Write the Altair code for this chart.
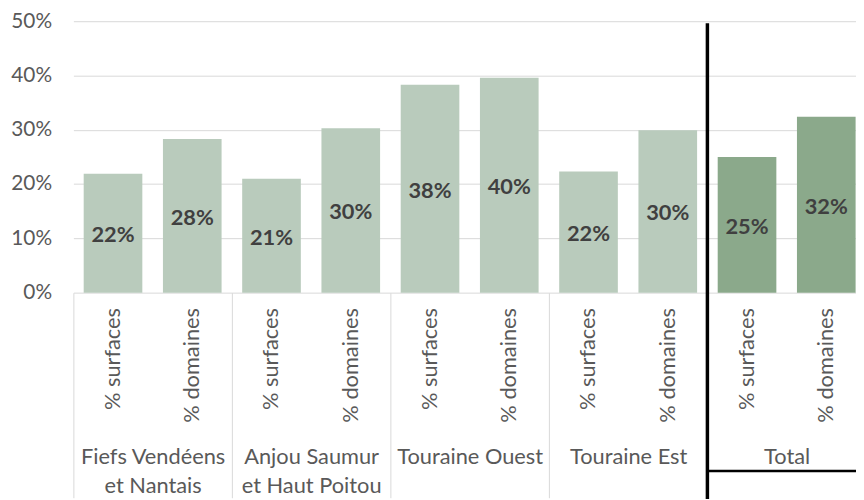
import altair as alt
import pandas as pd

groups = ["Fiefs Vendéens|et Nantais", "Anjou Saumur|et Haut Poitou", "Touraine Ouest", "Touraine Est", "Total"]
measures = ["% surfaces", "% domaines"]
surfaces = [0.219, 0.210, 0.383, 0.223, 0.250]
domaines = [0.283, 0.303, 0.396, 0.299, 0.324]

rows = []
for g, s, d in zip(groups, surfaces, domaines):
    for m, v in zip(measures, [s, d]):
        rows.append({"group": g, "measure": m, "key": g + "#" + m, "value": v,
                     "kind": "total" if g == "Total" else "region"})
df = pd.DataFrame(rows)
keys = list(df["key"])

FONT = "Lato"
GRAY = "#595959"

xkey = alt.X("key:N", sort=keys,
             scale=alt.Scale(paddingInner=0.26, paddingOuter=0.13),
             axis=alt.Axis(labelExpr="split(datum.label,'#')[1]", labelAngle=-90,
                           labelAlign="right", labelBaseline="middle", labelPadding=15,
                           ticks=False, domain=False, title=None, labelFont=FONT,
                           labelFontSize=22, labelColor=GRAY))

yaxis = alt.Axis(values=[0, 0.1, 0.2, 0.3, 0.4, 0.5], format=".0%", grid=True,
                 gridColor="#d9d9d9", gridWidth=1, domain=False, ticks=False,
                 labelPadding=22, labelFont=FONT, labelFontSize=21,
                 labelColor=GRAY, title=None)
yval = alt.Y("value:Q", scale=alt.Scale(domain=[0, 0.5], nice=False), axis=yaxis)

base = alt.Chart(df)
bars = base.mark_bar().encode(
    x=xkey, y=yval,
    color=alt.Color("kind:N", scale=alt.Scale(domain=["region", "total"],
                                              range=["#b9cbbc", "#8ba98b"]), legend=None))
labels = base.transform_calculate(mid="datum.value/2").mark_text(
    font=FONT, fontSize=22, fontWeight="bold", color="#404040", baseline="middle", dy=2
).encode(x=xkey, y=alt.Y("mid:Q", axis=yaxis), text=alt.Text("value:Q", format=".0%"))

keylayer = alt.layer(bars, labels)

gdf = pd.DataFrame({"group": ["Total"]})
xgroup = alt.X("group:N", bandPosition=0,
               scale=alt.Scale(domain=groups, paddingInner=0, paddingOuter=0),
               axis=alt.Axis(orient="bottom", tickBand="extent", tickSize=207,
                             tickColor="#d9d9d9", tickWidth=1, domain=False,
                             labelExpr="split(datum.label,'|')", labelAngle=0,
                             labelAlign="center", labelBaseline="top", labelPadding=-52,
                             labelLineHeight=30, labelFont=FONT, labelFontSize=22,
                             labelColor=GRAY, title=None))
vrule = alt.Chart(gdf).mark_rule(color="black", strokeWidth=3.5).encode(
    x=xgroup, y=alt.Y(datum=0.496, axis=yaxis), y2=alt.datum(-0.38))
hrule = alt.Chart(gdf).mark_rule(color="black", strokeWidth=2.5).encode(
    x=alt.X("group:N", bandPosition=0), x2=alt.X2("group", bandPosition=1),
    y=alt.Y(datum=-0.3285, axis=yaxis))
grouplayer = alt.layer(vrule, hrule)

chart = alt.layer(keylayer, grouplayer).resolve_scale(x="independent").properties(
    width=800, height=274,
    autosize=alt.AutoSizeParams(type="none"),
    padding={"left": 66, "top": 11, "right": -10, "bottom": 207},
    background="white",
).configure_view(stroke=None)

chart.save("out.html", embed_options={"renderer": "svg", "actions": False})
